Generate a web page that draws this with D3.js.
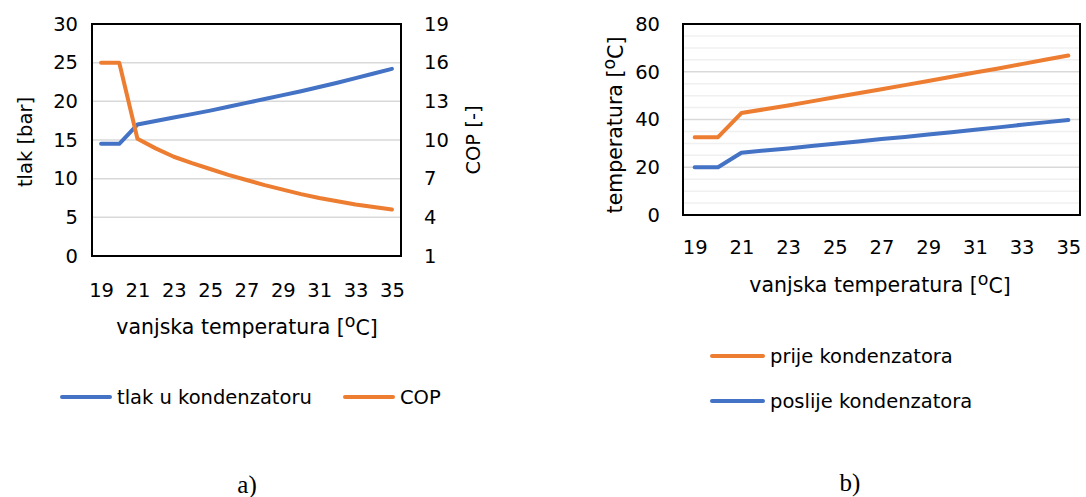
<!DOCTYPE html>
<html>
<head>
<meta charset="utf-8">
<script src="https://cdn.jsdelivr.net/npm/d3@7"></script>
<style>
  body { margin: 0; background: #fff; }
  text { font-family: "DejaVu Sans", sans-serif; fill: #000; }
</style>
</head>
<body>
<div id="chart"></div>
<script>
// x categories (vanjska temperatura)
var temps = [19,20,21,22,23,24,25,26,27,28,29,30,31,32,33,34,35]
var xLabels = [19,21,23,25,27,29,31,33,35]

// chart a)
var tlak = [14.5,14.5,17.0,17.45,17.9,18.35,18.8,19.3,19.8,20.3,20.8,21.3,21.85,22.4,23.0,23.6,24.2]
var cop  = [16,16,10.1,9.35,8.7,8.2,7.75,7.3,6.9,6.5,6.15,5.8,5.5,5.25,5.0,4.8,4.6]
var tlakTicks = [0,5,10,15,20,25,30]
var copTicks = [1,4,7,10,13,16,19]

// chart b)
var prije   = [32.6,32.6,42.7,44.3,45.9,47.6,49.3,51.0,52.7,54.4,56.1,57.9,59.7,61.4,63.2,65.0,66.8]
var poslije = [20.0,20.0,26.1,27.0,27.9,28.9,29.8,30.8,31.8,32.7,33.7,34.7,35.7,36.7,37.8,38.8,39.8]
var tempTicks = [0,20,40,60,80]
var tempMinor = [5,10,15,25,30,35,45,50,55,65,70,75]

var blue = "#4472C4", orange = "#ED7D31"
var fs = 19.5, ft = 20.5
var font = "DejaVu Sans"

var svg = d3.select("#chart").append("svg")
    .attr("width", 1086)
    .attr("height", 497)

function degLabel(sel, txt){
  sel.append("tspan").text(txt + " [")
  sel.append("tspan").text("o").attr("font-size", "0.85em").attr("dy", "-0.4em")
  sel.append("tspan").text("C]").attr("dy", "0.4em")
}

function drawLine(g, x, y, vals, col){
  var line = d3.line()
      .x(function(d, i){ return x(temps[i]) })
      .y(function(d){ return y(d) })
  g.append("path").datum(vals)
    .attr("d", line)
    .attr("fill", "none")
    .attr("stroke", col)
    .attr("stroke-width", 4)
    .attr("stroke-linecap", "round")
    .attr("stroke-linejoin", "round")
}

function xAxis(g, x, h, pad){
  g.append("g")
    .attr("transform", "translate(0," + h + ")")
    .call(d3.axisBottom(x).tickValues(xLabels).tickSize(0).tickPadding(pad))
    .call(function(a){ a.select(".domain").remove() })
    .selectAll("text").attr("font-size", fs).style("font-family", font)
}

// ---------- a) ----------
var mA = {left: 92, top: 24}, wA = 309, hA = 232
var gA = svg.append("g").attr("transform", "translate(" + mA.left + "," + mA.top + ")")

var xA = d3.scalePoint().domain(temps).range([0, wA]).padding(0.5)
var yA = d3.scaleLinear().domain([0, 30]).range([hA, 0])
var yA2 = d3.scaleLinear().domain([1, 19]).range([hA, 0])

gA.selectAll(".grid").data(tlakTicks.slice(1, -1)).enter()
  .append("line")
    .attr("x1", 0).attr("x2", wA)
    .attr("y1", function(d){ return yA(d) }).attr("y2", function(d){ return yA(d) })
    .attr("stroke", "#d9d9d9").attr("stroke-width", 1.5)

gA.append("g")
  .call(d3.axisLeft(yA).tickValues(tlakTicks).tickSize(0).tickPadding(14))
  .call(function(a){ a.select(".domain").remove() })
  .selectAll("text").attr("font-size", fs).style("font-family", font)

gA.append("g")
  .attr("transform", "translate(" + wA + ",0)")
  .call(d3.axisRight(yA2).tickValues(copTicks).tickSize(0).tickPadding(23))
  .call(function(a){ a.select(".domain").remove() })
  .selectAll("text").attr("font-size", fs).style("font-family", font)

xAxis(gA, xA, hA, 27)

drawLine(gA, xA, yA, tlak, blue)
drawLine(gA, xA, yA2, cop, orange)

gA.append("rect").attr("width", wA).attr("height", hA)
  .attr("fill", "none").attr("stroke", "#000").attr("stroke-width", 2)

svg.append("text")
  .attr("transform", "translate(32,142) rotate(-90)")
  .attr("text-anchor", "middle").attr("font-size", fs)
  .text("tlak [bar]")

svg.append("text")
  .attr("transform", "translate(480,140) rotate(-90)")
  .attr("text-anchor", "middle").attr("font-size", fs)
  .text("COP [-]")

svg.append("text")
  .attr("x", 247).attr("y", 334)
  .attr("text-anchor", "middle").attr("font-size", ft)
  .call(degLabel, "vanjska temperatura")

// legend a)
var legA = [{name: "tlak u kondenzatoru", col: blue, x: 60}, {name: "COP", col: orange, x: 343}]
var la = svg.selectAll(".legA").data(legA).enter().append("g")
  .attr("transform", function(d){ return "translate(" + d.x + ",397)" })
la.append("line").attr("x1", 2).attr("x2", 50)
  .attr("stroke", function(d){ return d.col }).attr("stroke-width", 4).attr("stroke-linecap", "round")
la.append("text").attr("x", 57).attr("y", 7).attr("font-size", fs).text(function(d){ return d.name })

svg.append("text").attr("x", 247).attr("y", 493)
  .attr("text-anchor", "middle").attr("font-size", 25)
  .style("font-family", "'Liberation Serif', serif")
  .text("a)")

// ---------- b) ----------
var mB = {left: 683, top: 24}, wB = 397, hB = 191
var gB = svg.append("g").attr("transform", "translate(" + mB.left + "," + mB.top + ")")

var xB = d3.scalePoint().domain(temps).range([0, wB]).padding(0.5)
var yB = d3.scaleLinear().domain([0, 80]).range([hB, 0])

gB.selectAll(".minor").data(tempMinor).enter()
  .append("line")
    .attr("x1", 0).attr("x2", wB)
    .attr("y1", function(d){ return yB(d) }).attr("y2", function(d){ return yB(d) })
    .attr("stroke", "#f0f0f0").attr("stroke-width", 1.5)

gB.selectAll(".major").data(tempTicks.slice(1, -1)).enter()
  .append("line")
    .attr("x1", 0).attr("x2", wB)
    .attr("y1", function(d){ return yB(d) }).attr("y2", function(d){ return yB(d) })
    .attr("stroke", "#d9d9d9").attr("stroke-width", 1.5)

gB.append("g")
  .call(d3.axisLeft(yB).tickValues(tempTicks).tickSize(0).tickPadding(23))
  .call(function(a){ a.select(".domain").remove() })
  .selectAll("text").attr("font-size", fs).style("font-family", font)

xAxis(gB, xB, hB, 25)

drawLine(gB, xB, yB, prije, orange)
drawLine(gB, xB, yB, poslije, blue)

gB.append("rect").attr("width", wB).attr("height", hB)
  .attr("fill", "none").attr("stroke", "#000").attr("stroke-width", 2)

svg.append("text")
  .attr("transform", "translate(622,125) rotate(-90)")
  .attr("text-anchor", "middle").attr("font-size", ft)
  .call(degLabel, "temperatura")

svg.append("text")
  .attr("x", 880).attr("y", 292)
  .attr("text-anchor", "middle").attr("font-size", ft)
  .call(degLabel, "vanjska temperatura")

// legend b)
var legB = [{name: "prije kondenzatora", col: orange, y: 356}, {name: "poslije kondenzatora", col: blue, y: 401}]
var lb = svg.selectAll(".legB").data(legB).enter().append("g")
  .attr("transform", function(d){ return "translate(710," + d.y + ")" })
lb.append("line").attr("x1", 2).attr("x2", 53)
  .attr("stroke", function(d){ return d.col }).attr("stroke-width", 4).attr("stroke-linecap", "round")
lb.append("text").attr("x", 60).attr("y", 7).attr("font-size", fs).text(function(d){ return d.name })

svg.append("text").attr("x", 850).attr("y", 491)
  .attr("text-anchor", "middle").attr("font-size", 25)
  .style("font-family", "'Liberation Serif', serif")
  .text("b)")
</script>
</body>
</html>
